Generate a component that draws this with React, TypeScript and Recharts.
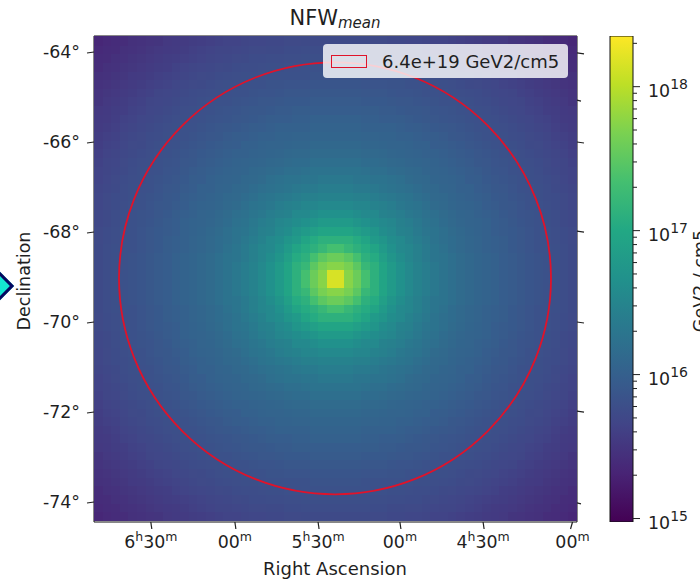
import {
  Bar,
  BarChart,
  Legend,
  ReferenceDot,
  Scatter,
  ScatterChart,
  XAxis,
  YAxis,
} from "recharts";

const FONT = "DejaVu Sans";
const INK = "#1f1f1f";
const RED = "#e0132a";

// viridis, evenly spaced from 0 to 1
const VIRIDIS = ["#440154", "#482475", "#414487", "#355f8d", "#2a788e", "#21918c", "#22a884", "#44bf70", "#7ad151", "#bddf26", "#fde725"];

const LOG_MIN = 14.976;
const LOG_MAX = 18.352;

const RADIAL_LOG_J = [
  18.15, 18.15, 18.0, 17.74, 17.66, 17.58, 17.49, 17.34, 17.22, 17.12,
  17.04, 16.95, 16.87, 16.8, 16.73, 16.66, 16.61, 16.56, 16.51, 16.46,
  16.43, 16.39, 16.36, 16.33, 16.29, 16.26, 16.23, 16.2, 16.17, 16.15,
  16.12, 16.11, 16.09, 16.07, 16.06, 16.04, 16.02, 16.01, 15.99, 15.97,
  15.96, 15.94, 15.92, 15.9, 15.89, 15.87, 15.85, 15.84, 15.82, 15.81,
  15.8, 15.79, 15.77, 15.76, 15.75, 15.73, 15.72, 15.7, 15.69, 15.67,
  15.65, 15.63, 15.61, 15.59, 15.58, 15.56, 15.55, 15.53, 15.51, 15.49,
  15.48, 15.46, 15.45, 15.43, 15.41, 15.4, 15.38, 15.36, 15.35, 15.33, 15.31,
];

const GRID_SIZE = 56;
const CELL_W = 483 / GRID_SIZE;
const CELL_H = 484 / GRID_SIZE;
const STEP_X = 0.1929;
const STEP_Y = 0.192;
const MAP_CENTER_DEC = -69.02;

// x axis is the sky offset in degrees from the map centre
const X_DOMAIN = [-5.4, 5.4];
const DEC_DOMAIN = [-74.444, -63.644];

const RA_TICKS = [-4.13, -2.25, -0.39, 1.44, 3.3, 5.3];
const RA_LABELS = ["6h30m", "00m", "5h30m", "00m", "4h30m", "00m"];
const DEC_TICKS = [-64, -66, -68, -70, -72, -74];
const TOP_TICKS = [-3.88, -3.07, -0.68, 2.49, 3.07];
const TOP_SHORT = [-3.07, 3.07];
const RIGHT_TICKS = [-64.02, -65.07, -66, -67.98, -70, -71.98, -74.02];
const RIGHT_SHORT = [-65.07, -74.02];

const CIRCLE_X = -0.011;
const CIRCLE_DEC = -69.03;
const CIRCLE_R = 216;

const LEGEND_LABEL = "6.4e+19 GeV2/cm5";

const CBAR_MAJOR = [1e15, 1e16, 1e17, 1e18];
const CBAR_MINOR = [
  2e15, 3e15, 4e15, 5e15, 6e15, 7e15, 8e15, 9e15,
  2e16, 3e16, 4e16, 5e16, 6e16, 7e16, 8e16, 9e16,
  2e17, 3e17, 4e17, 5e17, 6e17, 7e17, 8e17, 9e17,
  2e18,
];

function viridis(t: number) {
  const p = Math.max(0, Math.min(1, t)) * (VIRIDIS.length - 1);
  const i = Math.min(Math.floor(p), VIRIDIS.length - 2);
  const f = p - i;
  const rgb = (hex: string) => [1, 3, 5].map((k) => parseInt(hex.slice(k, k + 2), 16));
  const a = rgb(VIRIDIS[i]);
  const b = rgb(VIRIDIS[i + 1]);
  return `rgb(${a.map((v, k) => Math.round(v + (b[k] - v) * f)).join(",")})`;
}

const cells: { x: number; y: number; fill: string }[] = [];
for (let row = 0; row < GRID_SIZE; row++) {
  for (let col = 0; col < GRID_SIZE; col++) {
    const dx = col - (GRID_SIZE - 1) / 2;
    const dy = row - (GRID_SIZE - 1) / 2;
    const logJ = RADIAL_LOG_J[Math.round(2 * Math.hypot(dx, dy))];
    cells.push({
      x: dx * STEP_X,
      y: MAP_CENTER_DEC + dy * STEP_Y,
      fill: viridis((logJ - LOG_MIN) / (LOG_MAX - LOG_MIN)),
    });
  }
}

const cbarData = [{ name: "J", range: [10 ** LOG_MIN, 10 ** LOG_MAX] }];

function CellShape(props: any) {
  // one extra pixel so that neighbouring cells never leave a seam
  return (
    <rect
      x={props.cx - CELL_W / 2}
      y={props.cy - CELL_H / 2}
      width={CELL_W + 1}
      height={CELL_H + 1}
      fill={props.payload.fill}
      shapeRendering="crispEdges"
    />
  );
}

function RaTick({ x, y, index }: any) {
  const m = RA_LABELS[index].match(/^(?:(\d)h)?(\d\d)m$/);
  return (
    <g>
      <line x1={x} y1={y} x2={x + (index === 5 ? -2 : 1)} y2={y + 7} stroke={INK} strokeWidth={1.2} />
      <text x={x} y={y + 26} textAnchor="middle" fontFamily={FONT} fontSize={17.4} fill={INK}>
        {m && m[1] ? (
          <>
            {m[1]}
            <tspan fontSize={12.5} dy={-7}>h</tspan>
            <tspan dy={7}>{m[2]}</tspan>
          </>
        ) : (
          m && m[2]
        )}
        <tspan fontSize={12.5} dy={-7}>m</tspan>
      </text>
    </g>
  );
}

function DecTick({ x, y, payload }: any) {
  return (
    <g>
      <line x1={x} y1={y} x2={x - 7} y2={y + 1} stroke={INK} strokeWidth={1.2} />
      <text x={x - 14} y={y + 6} textAnchor="end" fontFamily={FONT} fontSize={17.4} fill={INK}>
        {payload.value}°
      </text>
    </g>
  );
}

function TopTick({ x, y, payload }: any) {
  const len = TOP_SHORT.includes(payload.value) ? 2 : 7;
  return <line x1={x} y1={y} x2={x} y2={y - len} stroke={INK} strokeWidth={1.2} />;
}

function RightTick({ x, y, payload }: any) {
  const len = RIGHT_SHORT.includes(payload.value) ? 4 : 7;
  return <line x1={x} y1={y} x2={x + len} y2={y + 1} stroke={INK} strokeWidth={1.2} />;
}

function CbarTick({ x, y, payload }: any) {
  const major = CBAR_MAJOR.includes(payload.value);
  return (
    <g>
      <line x1={x} y1={y} x2={x + (major ? 7 : 4)} y2={y} stroke={INK} />
      {major ? (
        <text x={x + 15} y={y + 10} fontFamily={FONT} fontSize={17.4} fill={INK}>
          10
          <tspan fontSize={14} dy={-8}>{Math.round(Math.log10(payload.value))}</tspan>
        </text>
      ) : null}
    </g>
  );
}

function MapLegend() {
  return (
    <div
      style={{
        boxSizing: "border-box",
        width: 245,
        height: 34,
        background: "rgba(255,255,255,0.8)",
        borderRadius: 4,
        display: "flex",
        alignItems: "center",
        fontFamily: FONT,
        fontSize: 18,
        color: INK,
      }}
    >
      <span
        style={{
          boxSizing: "border-box",
          width: 36,
          height: 13,
          marginLeft: 8,
          marginRight: 15,
          border: `1.8px solid ${RED}`,
          background: "rgba(255,255,255,0.1)",
        }}
      />
      {LEGEND_LABEL}
    </div>
  );
}

function MapChart() {
  return (
    <ScatterChart width={600} height={580} margin={{ top: 29, right: 8, bottom: 18, left: 34 }}>
      <XAxis
        xAxisId="bottom"
        type="number"
        dataKey="x"
        domain={X_DOMAIN}
        ticks={RA_TICKS}
        interval={0}
        height={40}
        allowDataOverflow
        tick={<RaTick />}
        tickLine={false}
        tickSize={0}
        tickMargin={0}
        stroke="#111"
      />
      <XAxis
        xAxisId="top"
        orientation="top"
        type="number"
        domain={X_DOMAIN}
        ticks={TOP_TICKS}
        interval={0}
        height={7}
        allowDataOverflow
        tick={<TopTick />}
        tickLine={false}
        tickSize={0}
        tickMargin={0}
        stroke="#111"
      />
      <YAxis
        yAxisId="left"
        type="number"
        dataKey="y"
        domain={DEC_DOMAIN}
        ticks={DEC_TICKS}
        interval={0}
        width={60}
        allowDataOverflow
        tick={<DecTick />}
        tickLine={false}
        tickSize={0}
        tickMargin={0}
        stroke="#111"
      />
      <YAxis
        yAxisId="right"
        orientation="right"
        type="number"
        domain={DEC_DOMAIN}
        ticks={RIGHT_TICKS}
        interval={0}
        width={15}
        allowDataOverflow
        tick={<RightTick />}
        tickLine={false}
        tickSize={0}
        tickMargin={0}
        stroke="#111"
      />
      <Scatter
        name={LEGEND_LABEL}
        xAxisId="bottom"
        yAxisId="left"
        data={cells}
        shape={CellShape}
        isAnimationActive={false}
      />
      <ReferenceDot
        xAxisId="bottom"
        yAxisId="left"
        x={CIRCLE_X}
        y={CIRCLE_DEC}
        r={CIRCLE_R}
        fill="none"
        stroke={RED}
        strokeWidth={1.8}
      />
      <Legend
        layout="horizontal"
        verticalAlign="middle"
        content={<MapLegend />}
        wrapperStyle={{ left: 323, top: 44, width: 245, height: 34 }}
      />
      <text x={335} y={25} textAnchor="middle" fontFamily={FONT} fontSize={21} fill={INK}>
        NFW
        <tspan fontSize={15} fontStyle="italic" dy={3}>mean</tspan>
      </text>
      <text x={335} y={575} textAnchor="middle" fontFamily={FONT} fontSize={18} fill={INK}>
        Right Ascension
      </text>
      <text
        x={30}
        y={281}
        textAnchor="middle"
        transform="rotate(-90 30 281)"
        fontFamily={FONT}
        fontSize={17.5}
        fill={INK}
      >
        Declination
      </text>
    </ScatterChart>
  );
}

function ColorBar() {
  return (
    <BarChart
      width={120}
      height={580}
      data={cbarData}
      barCategoryGap={0}
      margin={{ top: 36, right: 0, bottom: 58, left: 10 }}
    >
      <defs>
        <linearGradient id="viridisBar" x1="0" y1="1" x2="0" y2="0">
          {VIRIDIS.map((c, i) => (
            <stop key={c} offset={i / (VIRIDIS.length - 1)} stopColor={c} />
          ))}
        </linearGradient>
      </defs>
      <XAxis dataKey="name" hide />
      <YAxis
        orientation="right"
        scale="log"
        type="number"
        domain={[10 ** LOG_MIN, 10 ** LOG_MAX]}
        ticks={[...CBAR_MAJOR, ...CBAR_MINOR].sort((a, b) => a - b)}
        interval={0}
        width={87}
        allowDataOverflow
        tick={<CbarTick />}
        tickLine={false}
        tickSize={0}
        tickMargin={0}
        axisLine={false}
      />
      <Bar dataKey="range" fill="url(#viridisBar)" stroke="#111" isAnimationActive={false} />
      <text
        x={106}
        y={281}
        textAnchor="middle"
        transform="rotate(-90 106 281)"
        fontFamily={FONT}
        fontSize={17.5}
        fill={INK}
      >
        GeV2 / cm5
      </text>
    </BarChart>
  );
}

export default function App() {
  return (
    <div style={{ position: "absolute", left: 0, top: 0, width: 700, height: 580, overflow: "hidden", background: "#fff" }}>
      <div style={{ position: "absolute", left: 0, top: 0 }}>
        <MapChart />
      </div>
      <div style={{ position: "absolute", left: 600, top: 0 }}>
        <ColorBar />
      </div>
      {/* marker cut off by the left page edge */}
      <div
        style={{
          position: "absolute",
          left: -10,
          top: 276,
          width: 20,
          height: 20,
          boxSizing: "border-box",
          background: "#14e6d2",
          border: "3.5px solid #06065f",
          transform: "rotate(45deg)",
        }}
      />
    </div>
  );
}
